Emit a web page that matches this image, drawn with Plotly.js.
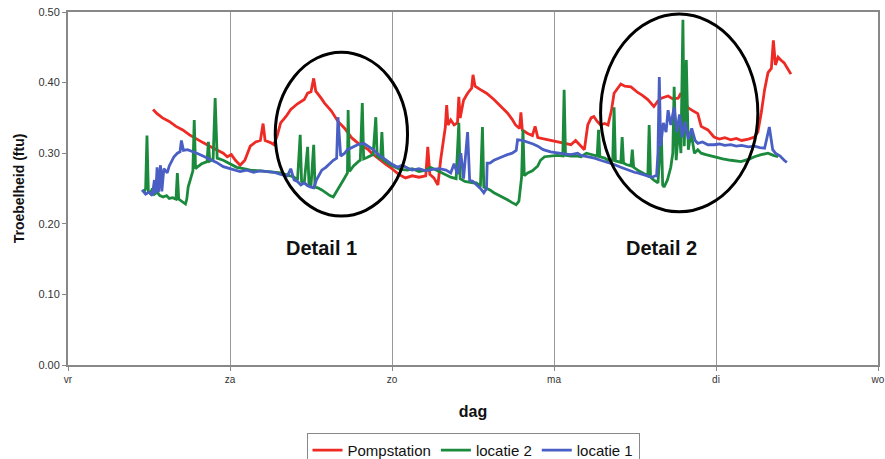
<!DOCTYPE html>
<html>
<head>
<meta charset="utf-8">
<script src="https://cdn.plot.ly/plotly-3.0.1.min.js"></script>
<style>html,body{margin:0;padding:0;background:#fff;}#chart{width:885px;height:459px;}</style>
</head>
<body>
<div id="chart"></div>
<script>
// x values in hours since Friday 00:00
var dayTicks = [0, 24, 48, 72, 96, 120];
var dayLabels = ["vr", "za", "zo", "ma", "di", "wo"];

var pompX = [12.6,13.2,14.0,15.0,16.0,17.0,18.0,19.0,20.0,21.0,22.0,23.0,23.6,24.2,24.8,25.5,26.2,27.0,27.8,28.5,28.9,29.2,30.0,30.5,31.0,31.5,32.3,33.0,34.0,35.0,35.5,36.0,36.4,36.7,37.5,38.0,39.0,39.5,40.0,41.0,41.5,42.0,43.0,44.5,45.0,46.0,47.0,48.0,49.0,50.0,51.0,52.0,53.0,53.3,53.6,54.2,54.8,55.2,55.6,55.9,56.1,56.3,56.7,57.2,57.7,57.9,58.1,58.6,59.2,59.8,60.0,60.3,61.1,62.0,63.1,64.0,65.1,65.8,66.3,66.9,67.1,67.3,68.1,68.8,69.2,69.6,70.5,71.5,72.5,73.5,74.5,75.2,76.0,76.5,77.0,77.5,77.9,78.4,78.9,79.5,80.0,80.5,80.9,81.4,81.9,82.5,83.4,84.4,85.1,85.9,86.4,86.8,87.4,87.9,88.9,89.6,90.4,90.8,91.3,91.9,92.6,93.3,93.8,94.3,94.8,95.7,96.5,97.3,98.2,99.0,99.8,100.8,101.7,102.2,102.7,103.2,103.7,104.2,104.5,104.8,105.2,105.6,106.1,106.6,107.1];
var pompY = [0.362,0.356,0.350,0.345,0.338,0.333,0.326,0.320,0.315,0.310,0.305,0.300,0.295,0.298,0.290,0.283,0.290,0.310,0.316,0.318,0.342,0.318,0.315,0.312,0.325,0.343,0.352,0.362,0.370,0.376,0.385,0.387,0.406,0.388,0.378,0.371,0.360,0.352,0.345,0.335,0.329,0.322,0.314,0.305,0.300,0.292,0.285,0.278,0.270,0.265,0.268,0.266,0.268,0.309,0.270,0.265,0.255,0.290,0.320,0.337,0.368,0.340,0.347,0.340,0.343,0.380,0.350,0.375,0.385,0.392,0.411,0.395,0.390,0.385,0.376,0.368,0.357,0.348,0.340,0.335,0.358,0.333,0.328,0.325,0.338,0.322,0.320,0.318,0.316,0.314,0.312,0.318,0.310,0.305,0.340,0.350,0.352,0.345,0.340,0.342,0.340,0.360,0.385,0.392,0.398,0.395,0.394,0.386,0.382,0.376,0.370,0.366,0.374,0.378,0.381,0.377,0.378,0.385,0.372,0.364,0.360,0.356,0.338,0.335,0.333,0.323,0.320,0.322,0.319,0.321,0.318,0.320,0.323,0.330,0.357,0.390,0.414,0.420,0.460,0.425,0.436,0.432,0.428,0.420,0.412];

var loc2X = [11.0,11.3,11.5,11.7,11.9,12.2,12.5,12.8,13.2,13.6,14.1,14.6,15.0,15.5,16.0,16.2,16.4,16.8,17.1,17.4,17.6,17.8,18.2,18.5,18.7,18.9,19.1,19.8,20.6,20.8,21.0,21.5,21.8,22.0,22.1,23.0,24.0,25.0,26.0,27.0,28.5,30.0,31.5,32.9,33.5,34.0,34.4,34.6,35.0,35.5,35.7,36.0,36.4,36.6,37.0,37.6,38.2,38.8,39.3,39.7,40.2,40.8,41.4,41.5,41.7,42.3,43.0,43.3,43.6,43.8,44.3,44.8,45.2,45.6,45.8,46.3,46.5,46.7,47.0,47.9,48.5,49.2,50.3,51.0,52.0,53.0,53.7,54.5,55.5,56.7,57.5,57.9,58.1,58.8,60.0,60.5,61.1,61.4,61.6,62.5,63.1,64.0,65.1,65.8,66.4,66.8,67.2,67.4,67.6,68.1,68.8,69.6,70.0,70.6,71.5,72.5,73.3,73.5,73.7,74.5,75.5,76.0,76.8,77.5,78.4,78.6,78.8,79.5,80.0,80.7,80.9,81.1,81.9,82.1,82.3,82.7,83.4,83.6,83.8,84.4,85.1,85.9,86.1,86.3,86.8,87.4,87.9,88.1,88.3,88.8,89.3,89.6,89.8,90.1,90.5,90.8,91.1,91.3,91.6,91.9,92.3,92.8,93.3,93.8,94.5,95.7,97.0,98.2,99.7,101.0,101.7,102.7,103.7,104.5,105.2];
var loc2Y = [0.248,0.245,0.250,0.325,0.246,0.243,0.250,0.242,0.245,0.240,0.238,0.240,0.236,0.237,0.235,0.272,0.235,0.232,0.230,0.228,0.235,0.252,0.265,0.275,0.347,0.278,0.280,0.285,0.288,0.316,0.289,0.292,0.378,0.293,0.293,0.290,0.285,0.280,0.278,0.276,0.275,0.274,0.272,0.268,0.266,0.262,0.326,0.260,0.258,0.309,0.256,0.254,0.312,0.252,0.251,0.248,0.244,0.240,0.238,0.245,0.252,0.262,0.272,0.361,0.274,0.282,0.288,0.290,0.371,0.292,0.294,0.296,0.298,0.351,0.296,0.292,0.330,0.290,0.288,0.283,0.280,0.277,0.276,0.278,0.274,0.276,0.280,0.276,0.272,0.266,0.264,0.343,0.264,0.260,0.258,0.258,0.253,0.337,0.252,0.248,0.244,0.240,0.234,0.230,0.227,0.232,0.266,0.333,0.268,0.272,0.275,0.282,0.290,0.295,0.296,0.297,0.296,0.390,0.297,0.296,0.296,0.295,0.300,0.298,0.296,0.333,0.295,0.293,0.290,0.290,0.365,0.289,0.287,0.323,0.286,0.284,0.282,0.305,0.280,0.276,0.272,0.268,0.340,0.266,0.262,0.258,0.330,0.255,0.252,0.262,0.280,0.300,0.394,0.290,0.340,0.300,0.489,0.310,0.432,0.305,0.330,0.300,0.305,0.300,0.298,0.295,0.292,0.290,0.288,0.292,0.295,0.298,0.300,0.297,0.295];

var loc1X = [11.0,11.5,12.0,12.5,12.8,13.0,13.2,13.4,13.7,13.9,14.2,14.7,15.0,15.4,15.7,16.2,16.6,16.8,17.1,17.7,18.4,19.1,20.0,21.1,22.0,23.0,24.0,24.5,25.5,26.5,27.5,28.5,29.5,30.5,31.5,32.5,33.0,33.5,34.0,34.5,35.0,35.5,36.0,36.4,36.8,37.2,37.6,38.2,38.8,39.3,39.8,40.0,40.4,41.0,41.4,42.0,42.9,43.8,44.5,45.2,46.0,46.8,47.9,48.8,49.5,50.3,51.0,52.0,53.0,54.0,55.0,56.0,56.7,57.2,57.7,58.2,58.6,59.2,59.5,60.0,60.5,61.1,61.6,62.0,62.1,62.5,63.1,64.0,64.6,65.1,65.8,66.4,66.6,67.3,68.1,68.9,69.6,70.4,71.5,72.5,73.5,74.5,75.5,76.0,77.0,78.0,78.9,80.0,80.9,81.9,82.9,83.9,84.4,85.1,85.9,86.5,87.0,87.2,87.4,87.6,87.8,88.2,88.6,88.9,89.3,89.8,90.2,90.6,91.0,91.4,91.9,92.4,92.9,93.3,94.0,94.8,95.7,96.5,97.3,98.2,99.0,99.8,100.8,101.7,102.5,103.2,103.9,104.4,104.8,105.5,106.1,106.5];
var loc1Y = [0.248,0.242,0.245,0.240,0.262,0.243,0.280,0.245,0.283,0.246,0.278,0.272,0.282,0.290,0.295,0.300,0.302,0.318,0.304,0.305,0.303,0.300,0.296,0.291,0.287,0.281,0.278,0.276,0.274,0.276,0.273,0.275,0.274,0.273,0.270,0.268,0.278,0.262,0.260,0.255,0.258,0.254,0.252,0.251,0.262,0.270,0.276,0.280,0.286,0.290,0.293,0.351,0.296,0.300,0.305,0.308,0.312,0.314,0.310,0.305,0.298,0.292,0.285,0.280,0.283,0.279,0.276,0.278,0.275,0.277,0.278,0.276,0.272,0.285,0.270,0.300,0.264,0.330,0.262,0.260,0.256,0.250,0.244,0.250,0.286,0.286,0.290,0.293,0.296,0.298,0.300,0.304,0.319,0.318,0.316,0.313,0.310,0.305,0.302,0.300,0.299,0.298,0.300,0.297,0.295,0.293,0.290,0.287,0.284,0.280,0.276,0.273,0.272,0.270,0.268,0.266,0.268,0.268,0.300,0.408,0.310,0.343,0.330,0.361,0.340,0.365,0.330,0.355,0.323,0.345,0.320,0.335,0.318,0.314,0.316,0.312,0.312,0.313,0.311,0.312,0.310,0.311,0.309,0.310,0.308,0.307,0.337,0.305,0.300,0.296,0.290,0.287];

var traces = [
  {x: pompX, y: pompY, name: "Pompstation", type: "scatter", mode: "lines", line: {color: "#ee2a24", width: 2.8}},
  {x: loc2X, y: loc2Y, name: "locatie 2", type: "scatter", mode: "lines", line: {color: "#1b8a3c", width: 2.8}},
  {x: loc1X, y: loc1Y, name: "locatie 1", type: "scatter", mode: "lines", line: {color: "#4a5fc3", width: 2.8}}
];

var layout = {
  width: 885, height: 459,
  margin: {l: 68, r: 7, t: 12, b: 94},
  paper_bgcolor: "#ffffff", plot_bgcolor: "#ffffff",
  font: {family: "Liberation Sans, Arial, sans-serif", color: "#222"},
  showlegend: true,
  legend: {orientation: "h", x: 0.5, xanchor: "center", xref: "paper", y: 0.057, yanchor: "top", yref: "container",
    bordercolor: "#888", borderwidth: 1, font: {size: 15, color: "#111"}, tracegroupgap: 0},
  xaxis: {range: [0, 120], tickmode: "array", tickvals: dayTicks, ticktext: dayLabels,
    showgrid: true, gridcolor: "#999", gridwidth: 1, zeroline: false,
    showline: true, mirror: true, linecolor: "#888", linewidth: 2,
    ticks: "outside", ticklen: 4, tickcolor: "#888", tickfont: {size: 10, color: "#333"},
    title: {text: "<b>dag</b>", font: {size: 16, color: "#111"}, standoff: 22}},
  yaxis: {range: [0, 0.5], tickmode: "array", tickvals: [0, 0.1, 0.2, 0.3, 0.4, 0.5], tickformat: ".2f",
    showgrid: false, zeroline: false,
    showline: true, mirror: true, linecolor: "#888", linewidth: 2,
    ticks: "outside", ticklen: 4, tickcolor: "#888", tickfont: {size: 11, color: "#333"},
    title: {text: "<b>Troebelheid (ftu)</b>", font: {size: 14, color: "#111"}, standoff: 10}},
  shapes: [
    {type: "circle", xref: "x", yref: "y", x0: 30.7, x1: 50.3, y0: 0.211, y1: 0.443, line: {color: "#000", width: 3}},
    {type: "circle", xref: "x", yref: "y", x0: 78.9, x1: 102.2, y0: 0.217, y1: 0.497, line: {color: "#000", width: 3}}
  ],
  annotations: [
    {text: "<b>Detail 1</b>", x: 37.5, y: 0.166, xref: "x", yref: "y", showarrow: false, font: {size: 20, color: "#111"}},
    {text: "<b>Detail 2</b>", x: 87.9, y: 0.166, xref: "x", yref: "y", showarrow: false, font: {size: 20, color: "#111"}}
  ]
};

Plotly.newPlot("chart", traces, layout, {displayModeBar: false, staticPlot: true});
</script>
</body>
</html>
